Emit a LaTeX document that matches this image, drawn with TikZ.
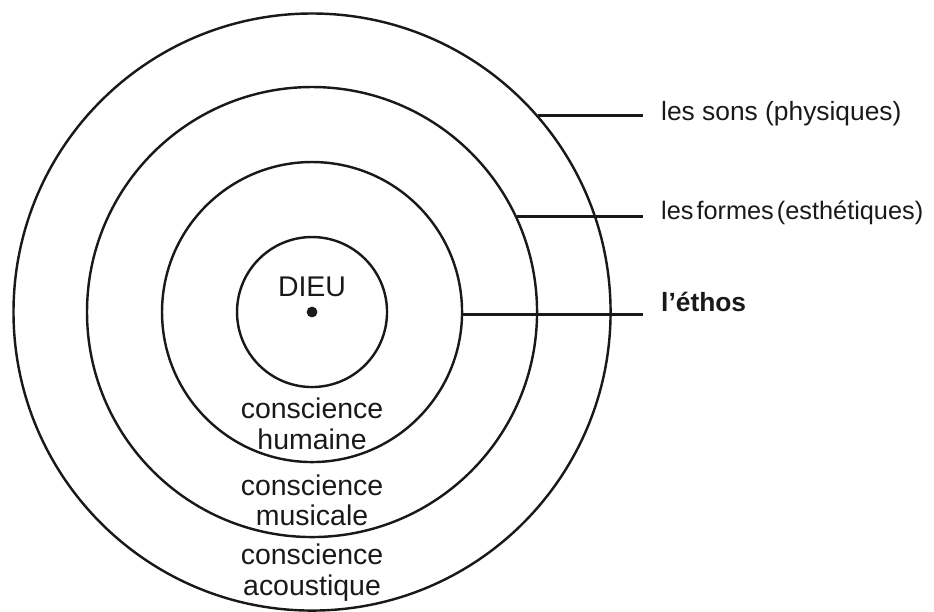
\documentclass[tikz,border=0pt]{standalone}
\usepackage{fontspec}
\setmainfont{Liberation Sans}
\usetikzlibrary{positioning}
\colorlet{penColor}{black!90}
\tikzset{
	ring/.style={draw=penColor, circle, line width=2.3pt, inner sep=0pt},
	link/.style={penColor, line width=2.3pt, shorten >=0.6cm},
	lbl/.style={anchor=base west, inner sep=0pt, text=penColor, font=\fontsize{25}{29}\selectfont},
	inlbl/.style={align=center, inner sep=0pt, text=penColor, font=\fontsize{27}{29}\selectfont},
	centredot/.style={circle, fill=penColor, minimum size=0.36cm, inner sep=0pt}
}

\begin{document}
\begin{tikzpicture}
				\useasboundingbox (-10.4,-9.97) rectangle (20.73,10.4);
				% the four spheres
				\node[ring, minimum size=19.9cm] (sons) at (0,0) {};
				\node[ring, minimum size=15cm] (formes) at (0,0) {};
				\node[ring, minimum size=10cm] (ethos) at (0,0) {};
				\node[ring, minimum size=5cm] (dieu) at (0,0) {};
				\node[centredot] (centre) at (0,0) {};
				
				\node[inlbl] (dieulbl) at (0,0.83) {DIEU};
				\node[inlbl] (humaine) at (0,-3.73) {conscience\\humaine};
				\node[inlbl] (musicale) at (0,-6.27) {conscience\\musicale};
				\node[inlbl] (acoustique) at (0,-8.68) {conscience\\acoustique};
				
				% labels on the right
				\node[lbl] (sonslbl) at (11.63,6.38) {les sons (physiques)};
				\node[lbl, font=\fontsize{24}{29}\selectfont] (formeslbl) at (11.63,3.09) {les\hspace{0.12em}formes\hspace{0.12em}(esthétiques)};
				\node[lbl, font=\fontsize{25}{29}\selectfont\bfseries] (ethoslbl) at (11.63,0.01) {l’éthos};
				\draw[link] (sons.41.3) -- (sons.41.3 -| sonslbl.west);
				\draw[link] (formes.25.5) -- (formes.25.5 -| formeslbl.west);
				\draw[link] (ethos.-1) -- (ethos.-1 -| ethoslbl.west);
\end{tikzpicture}
\end{document}
